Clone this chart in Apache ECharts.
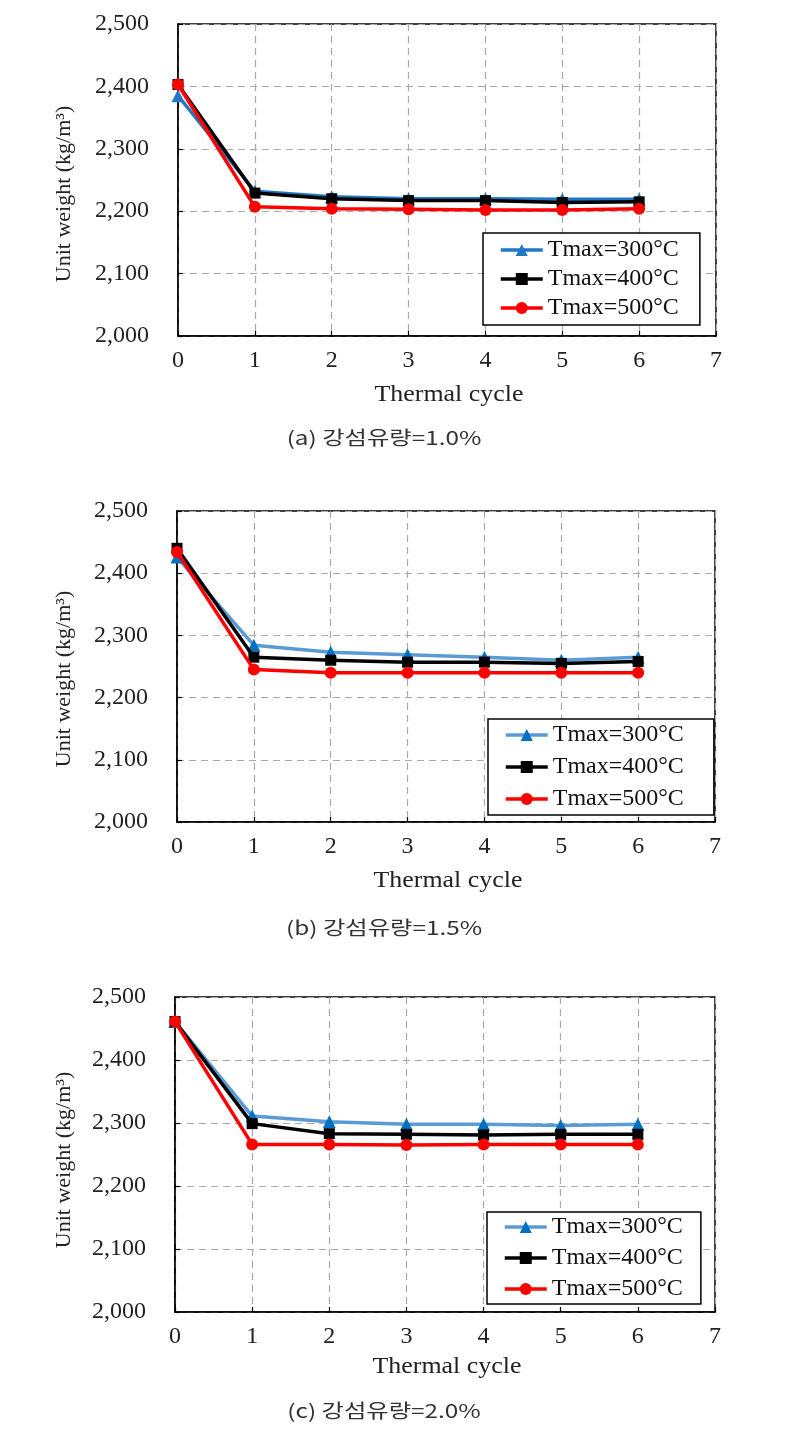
<!DOCTYPE html>
<html>
<head>
<meta charset="utf-8">
<script src="https://cdn.jsdelivr.net/npm/echarts@6/dist/echarts.min.js"></script>
<style>
html,body{margin:0;padding:0;background:#fff;}
#chart{width:787px;height:1444px;}
</style>
</head>
<body>
<div id="chart"></div>
<script>
// ---- data ----
const cycles = [0, 1, 2, 3, 4, 5, 6];
const xTicks = [0, 1, 2, 3, 4, 5, 6, 7];
const yTicks = [2000, 2100, 2200, 2300, 2400, 2500];
const seriesNames = ['Tmax=300°C', 'Tmax=400°C', 'Tmax=500°C'];
const captions = ['(a) 강섬유량=1.0%', '(b) 강섬유량=1.5%', '(c) 강섬유량=2.0%'];
const xTitle = 'Thermal cycle';
const yTitle = 'Unit weight (kg/m³)';

// panel (a) fiber 1.0%
const a300 = [2385, 2232, 2223, 2220, 2220, 2219, 2219];
const a400 = [2403, 2229, 2220, 2217, 2217, 2214, 2215];
const a500 = [2403, 2207, 2204, 2203, 2202, 2202, 2204];
// panel (b) fiber 1.5%
const b300 = [2426, 2284, 2273, 2269, 2265, 2260, 2265];
const b400 = [2440, 2265, 2260, 2257, 2257, 2255, 2258];
const b500 = [2434, 2245, 2240, 2240, 2240, 2240, 2240];
// panel (c) fiber 2.0%
const c300 = [2461, 2311, 2302, 2298, 2298, 2296, 2298];
const c400 = [2461, 2299, 2283, 2282, 2281, 2282, 2282];
const c500 = [2461, 2266, 2266, 2265, 2266, 2266, 2266];

const panelData = [[a300, a400, a500], [b300, b400, b500], [c300, c400, c500]];

// ---- layout / style ----
const SERIF = '"Liberation Serif", "Times New Roman", serif';
const grids = [
  {left: 178, top: 24, width: 538, height: 312},
  {left: 177, top: 511, width: 538, height: 311},
  {left: 175, top: 997, width: 540, height: 315}
];
const legendPos = [
  {left: 483, top: 233, padding: [5, 21, 5, 16], itemGap: 5},
  {left: 488, top: 719, padding: [4, 30, 4, 16], itemGap: 8},
  {left: 487, top: 1212, padding: [3, 18, 3, 16], itemGap: 7}
];
const lineColors = [
  ['#1F78C8', '#000000', '#FF0000'],
  ['#5B9BD5', '#000000', '#FF0000'],
  ['#5B9BD5', '#000000', '#FF0000']
];
const markColors = [
  ['#1F78C8', '#000000', '#FF0000'],
  ['#0070C0', '#000000', '#FF0000'],
  ['#0070C0', '#000000', '#FF0000']
];
const symbols = ['triangle', 'rect', 'circle'];
const symbolSizes = [13, 11, 12];

const option = {
  animation: false,
  backgroundColor: '#fff',
  grid: grids.map(g => Object.assign({show: true, borderColor: '#000', borderWidth: 1.5, backgroundColor: 'transparent'}, g)),
  xAxis: grids.map((g, i) => ({
    type: 'value', gridIndex: i, min: 0, max: 7, interval: 1,
    axisLine: {show: true, onZero: false, lineStyle: {color: '#000', width: 1.5}},
    axisTick: {show: true, inside: true, length: 5, lineStyle: {color: '#000', width: 1.2}},
    axisLabel: {margin: 13, fontFamily: SERIF, fontSize: 24, color: '#222',
      formatter: v => xTicks.indexOf(v) >= 0 ? String(v) : ''},
    splitLine: {show: true, lineStyle: {color: '#AAAAAA', type: [7, 5], width: 1.2}}
  })),
  yAxis: grids.map((g, i) => ({
    type: 'value', gridIndex: i, min: yTicks[0], max: yTicks[yTicks.length - 1], interval: 100,
    axisLine: {show: true, onZero: false, lineStyle: {color: '#000', width: 1.5}},
    axisTick: {show: true, inside: true, length: 5, lineStyle: {color: '#000', width: 1.2}},
    axisLabel: {margin: 29, fontFamily: SERIF, fontSize: 24, color: '#222',
      formatter: v => v.toLocaleString('en-US')},
    splitLine: {show: true, lineStyle: {color: '#AAAAAA', type: [7, 5], width: 1.2}}
  })),
  legend: legendPos.map((p, i) => ({
    orient: 'vertical', left: p.left, top: p.top, padding: p.padding, itemGap: p.itemGap,
    itemWidth: 42, itemHeight: 15,
    borderColor: '#000', borderWidth: 1.5, backgroundColor: '#fff',
    textStyle: {fontFamily: SERIF, fontSize: 24, color: '#111'},
    selectedMode: false,
    data: seriesNames.map((n, k) => ({
      name: n,
      itemStyle: {color: markColors[i][k]},
      lineStyle: {color: lineColors[i][k], width: 3.5}
    }))
  })),
  series: [],
  graphic: []
};

panelData.forEach((arrs, i) => {
  arrs.forEach((vals, k) => {
    option.series.push({
      type: 'line', name: seriesNames[k], xAxisIndex: i, yAxisIndex: i,
      data: cycles.map((c, j) => [c, vals[j]]),
      symbol: symbols[k], symbolSize: symbolSizes[k],
      lineStyle: {color: lineColors[i][k], width: 3.5},
      itemStyle: {color: markColors[i][k]},
      z: 2 + k
    });
  });
});

const yNameCenters = [194, 679, 1160];
const xNameY = [395, 881, 1367];
const capY = [437.5, 927.5, 1411];
grids.forEach((g, i) => {
  option.graphic.push({
    type: 'text', x: 64, y: yNameCenters[i], rotation: Math.PI / 2,
    style: {text: yTitle, fontFamily: SERIF, fontSize: 22, fill: '#222', textAlign: 'center', textVerticalAlign: 'middle'}
  });
  option.graphic.push({
    type: 'text', x: g.left + g.width / 2 + 2, y: xNameY[i], scaleX: 1.08,
    style: {text: xTitle, fontFamily: SERIF, fontSize: 24, fill: '#222', textAlign: 'center', textVerticalAlign: 'middle'}
  });
  option.graphic.push({
    type: 'text', x: 384, y: capY[i], scaleX: 1.28,
    style: {text: captions[i], fontFamily: '"Noto Sans CJK KR", sans-serif', fontSize: 19, fill: '#333', textAlign: 'center', textVerticalAlign: 'middle'}
  });
});

const chart = echarts.init(document.getElementById('chart'), null, {renderer: 'canvas'});
chart.setOption(option);
</script>
</body>
</html>
